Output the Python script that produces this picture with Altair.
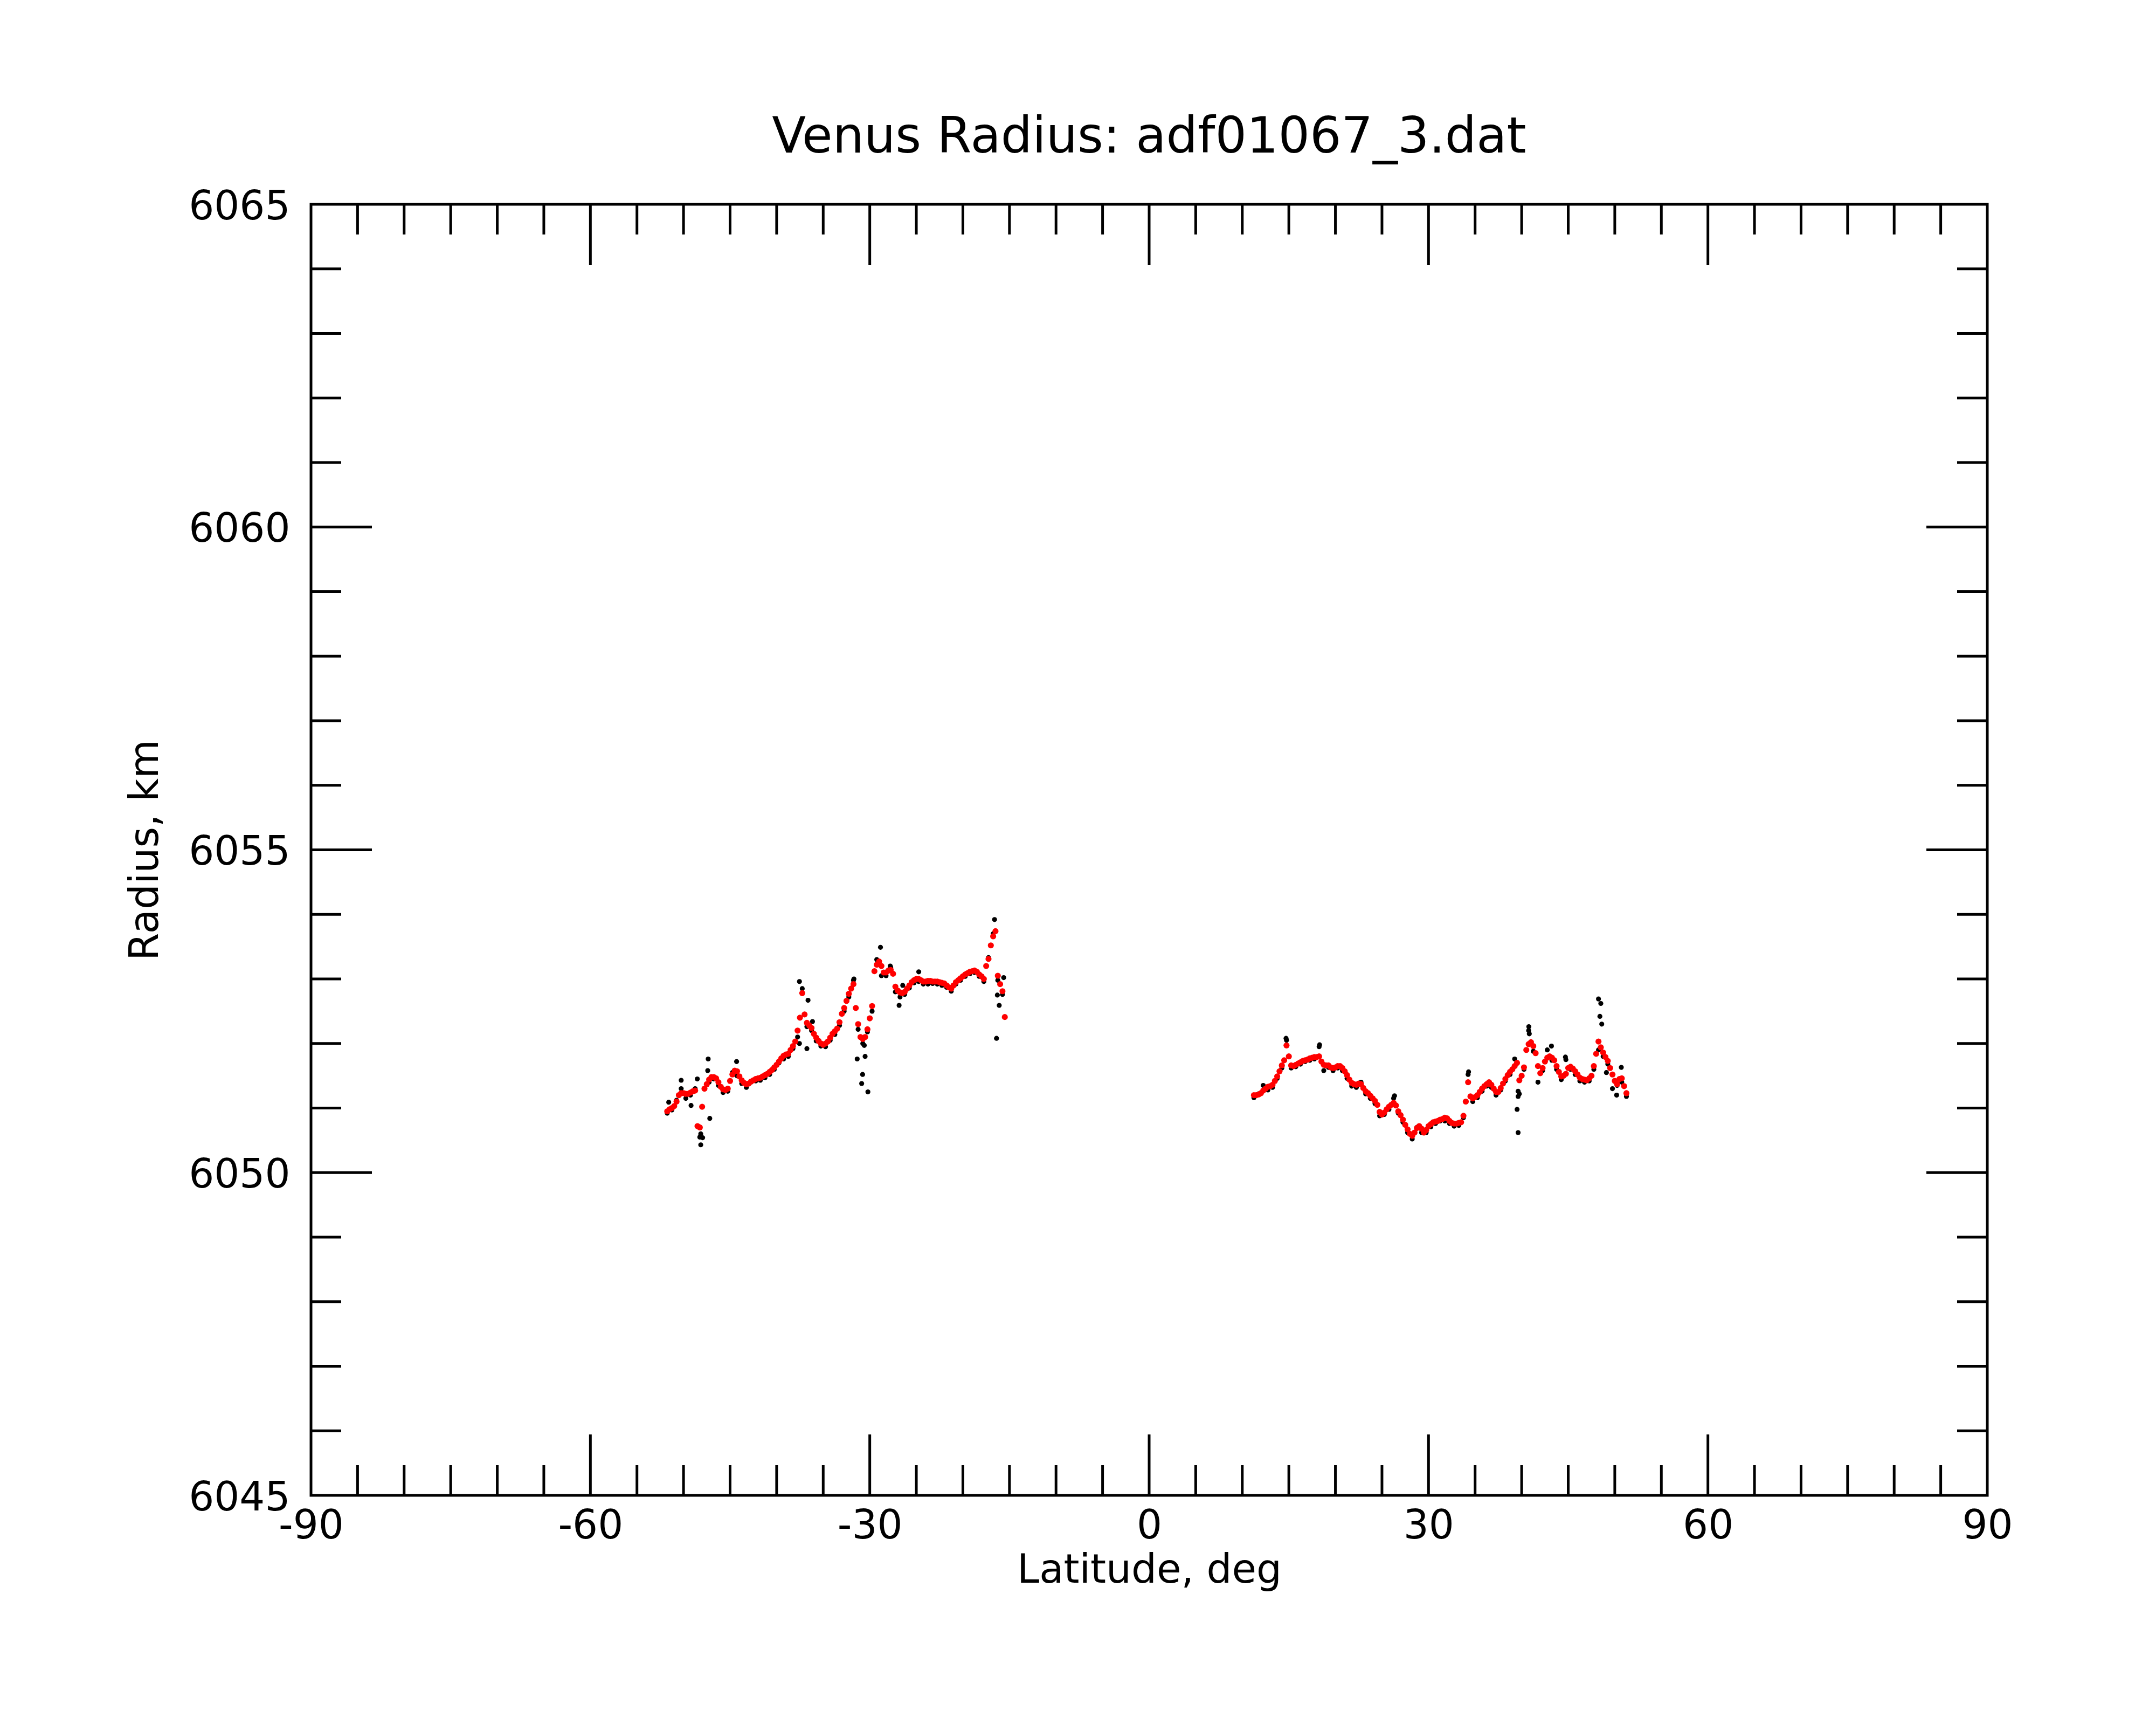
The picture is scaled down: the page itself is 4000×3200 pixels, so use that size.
import altair as alt
import pandas as pd

FONT = "DejaVu Sans"
W, H = 3110, 2395

TITLE = "Venus Radius: adf01067_3.dat"
X_TITLE = "Latitude, deg"
Y_TITLE = "Radius, km"

x_labels = [-90, -60, -30, 0, 30, 60, 90]
y_labels = [6045, 6050, 6055, 6060, 6065]
x_major = [-60, -30, 0, 30, 60]
x_minor = [v for v in range(-85, 90, 5) if v % 30 != 0]
y_major = [6050, 6055, 6060]
y_minor = [v for v in range(6046, 6065) if v % 5 != 0]

# smoothed radius (red), sampled every 0.25 deg
red1_start, red2_start, red_step = -51.75, 11.25, 0.25
red1_r = [
    6050.95, 6050.98, 6051.00, 6051.03, 6051.10, 6051.20, 6051.23, 6051.23, 6051.22, 6051.22,
    6051.24, 6051.26, 6051.27, 6050.72, 6050.70, 6051.02, 6051.30, 6051.37, 6051.44, 6051.48,
    6051.48, 6051.46, 6051.40, 6051.33, 6051.29, 6051.28, 6051.30, 6051.42, 6051.52, 6051.58,
    6051.57, 6051.49, 6051.43, 6051.39, 6051.37, 6051.38, 6051.41, 6051.43, 6051.45, 6051.46,
    6051.47, 6051.49, 6051.51, 6051.53, 6051.56, 6051.59, 6051.63, 6051.67, 6051.72, 6051.77,
    6051.81, 6051.83, 6051.84, 6051.90, 6051.96, 6052.03, 6052.20, 6052.40, 6052.78, 6052.45,
    6052.32, 6052.28, 6052.24, 6052.15, 6052.09, 6052.04, 6052.00, 6051.98, 6052.00, 6052.03,
    6052.09, 6052.15, 6052.19, 6052.23, 6052.33, 6052.46, 6052.55, 6052.66, 6052.77, 6052.85,
    6052.92, 6052.55, 6052.30, 6052.10, 6052.07, 6052.10, 6052.22, 6052.39, 6052.58, 6053.12,
    6053.22, 6053.27, 6053.20, 6053.10, 6053.10, 6053.13, 6053.14, 6053.08, 6052.88, 6052.82,
    6052.79, 6052.78, 6052.80, 6052.85, 6052.90, 6052.95, 6052.98, 6053.00, 6053.00, 6052.98,
    6052.96, 6052.96, 6052.97, 6052.97, 6052.96, 6052.96, 6052.96, 6052.95, 6052.94, 6052.93,
    6052.90, 6052.87, 6052.85, 6052.90, 6052.95, 6052.98, 6053.01, 6053.04, 6053.07, 6053.09,
    6053.11, 6053.12, 6053.13, 6053.11, 6053.07, 6053.04, 6053.00, 6053.20, 6053.31, 6053.52,
    6053.66, 6053.74, 6053.05, 6052.92, 6052.81, 6052.41,
]
red2_r = [
    6051.20, 6051.20, 6051.21, 6051.23, 6051.27, 6051.30, 6051.33, 6051.34, 6051.36, 6051.42,
    6051.49, 6051.57, 6051.66, 6051.74, 6051.97, 6051.80, 6051.66, 6051.65, 6051.67, 6051.69,
    6051.71, 6051.73, 6051.74, 6051.75, 6051.77, 6051.78, 6051.79, 6051.79, 6051.80, 6051.72,
    6051.67, 6051.66, 6051.66, 6051.63, 6051.62, 6051.63, 6051.65, 6051.65, 6051.62, 6051.57,
    6051.51, 6051.44, 6051.39, 6051.37, 6051.36, 6051.38, 6051.37, 6051.31, 6051.26, 6051.23,
    6051.19, 6051.15, 6051.11, 6051.05, 6050.94, 6050.90, 6050.93, 6050.98, 6051.02, 6051.05,
    6051.08, 6051.04, 6050.95, 6050.89, 6050.82, 6050.74, 6050.67, 6050.60, 6050.57, 6050.62,
    6050.69, 6050.72, 6050.68, 6050.62, 6050.66, 6050.72, 6050.75, 6050.78, 6050.79, 6050.80,
    6050.82, 6050.83, 6050.85, 6050.84, 6050.80, 6050.77, 6050.76, 6050.76, 6050.77, 6050.78,
    6050.88, 6051.10, 6051.40, 6051.18, 6051.15, 6051.17, 6051.20, 6051.25, 6051.30, 6051.34,
    6051.37, 6051.40, 6051.36, 6051.30, 6051.25, 6051.25, 6051.31, 6051.38, 6051.45, 6051.51,
    6051.56, 6051.60, 6051.65, 6051.70, 6051.43, 6051.50, 6051.63, 6051.90, 6051.99, 6052.02,
    6051.96, 6051.85, 6051.65, 6051.54, 6051.62, 6051.72, 6051.78, 6051.80, 6051.78, 6051.74,
    6051.65, 6051.56, 6051.49, 6051.50, 6051.53, 6051.62, 6051.64, 6051.61, 6051.57, 6051.52,
    6051.47, 6051.45, 6051.44, 6051.43, 6051.46, 6051.50, 6051.65, 6051.84, 6052.03, 6051.94,
    6051.86, 6051.79, 6051.73, 6051.62, 6051.52, 6051.42, 6051.37, 6051.45, 6051.46, 6051.34,
    6051.23,
]

# raw radius (black), sampled every 0.5 deg
blk1_start, blk2_start, blk_step = -51.75, 11.25, 0.5
blk1_r = [
    6050.92, 6050.97, 6051.12, 6051.30, 6051.15, 6051.20, 6051.30, 6050.55, 6051.30, 6051.40,
    6051.45, 6051.35, 6051.24, 6051.26, 6051.55, 6051.50, 6051.38, 6051.32, 6051.40, 6051.42,
    6051.43, 6051.47, 6051.52, 6051.60, 6051.70, 6051.76, 6051.80, 6051.92, 6052.10, 6052.85,
    6052.26, 6052.20, 6052.04, 6051.96, 6051.95, 6052.05, 6052.14, 6052.28, 6052.50, 6052.72,
    6052.98, 6052.22, 6052.00, 6052.18, 6052.50, 6053.30, 6053.05, 6053.05, 6053.18, 6052.80,
    6052.72, 6052.76, 6052.86, 6052.94, 6052.96, 6052.92, 6052.92, 6052.93, 6052.92, 6052.90,
    6052.87, 6052.81, 6052.92, 6052.98, 6053.04, 6053.08, 6053.10, 6053.04, 6052.96, 6053.33,
    6053.70, 6052.98, 6052.76,
]
blk2_r = [
    6051.16, 6051.22, 6051.35, 6051.28, 6051.32, 6051.46, 6051.62, 6052.05, 6051.62, 6051.64,
    6051.68, 6051.72, 6051.74, 6051.76, 6051.95, 6051.58, 6051.63, 6051.58, 6051.62, 6051.58,
    6051.46, 6051.34, 6051.32, 6051.40, 6051.22, 6051.15, 6051.07, 6050.88, 6050.90, 6050.98,
    6051.15, 6050.92, 6050.78, 6050.62, 6050.52, 6050.70, 6050.62, 6050.62, 6050.71, 6050.76,
    6050.80, 6050.80, 6050.76, 6050.72, 6050.73, 6050.85, 6051.52, 6051.10, 6051.16, 6051.26,
    6051.34, 6051.32, 6051.20, 6051.28, 6051.42, 6051.52, 6051.76, 6051.22, 6051.60, 6052.20,
    6051.88, 6051.40, 6051.58, 6051.90, 6051.74, 6051.60, 6051.44, 6051.75, 6051.60, 6051.52,
    6051.42, 6051.40, 6051.42, 6051.60, 6051.90, 6051.80, 6051.68, 6051.30, 6051.35, 6051.40,
    6051.18,
]

# isolated raw points away from the smoothed curve
out_lat = [
    -51.59, -50.25, -49.19, -48.52, -48.15, -47.95, -48.15, -47.18, -47.35, -47.40,
    -44.30, -37.55, -36.63, -36.15, -37.55, -36.75, -30.59, -31.35, -30.50, -30.77,
    -30.87, -30.20, -26.85, -26.46, -24.74, -27.80, -28.85, -16.30, -16.10, -16.39,
    -15.62, -31.70, -16.60,
    39.62, 39.62, 39.51, 39.62, 40.77, 40.82, 43.20, 44.70, 48.25, 48.50,
    48.40, 48.60, 50.20, 50.70, 34.30, 18.30, 14.70, 26.35, 49.10,
]
out_r = [
    6051.09, 6051.43, 6051.04, 6051.45, 6050.60, 6050.54, 6050.43, 6050.84, 6051.76, 6051.58,
    6051.72, 6052.96, 6052.67, 6052.34, 6052.00, 6051.92, 6051.97, 6051.76, 6051.80, 6051.52,
    6051.38, 6051.25, 6052.59, 6052.90, 6053.11, 6053.20, 6053.49, 6052.75, 6052.59, 6052.08,
    6053.02, 6053.00, 6053.92,
    6051.26, 6051.18, 6050.98, 6050.62, 6052.26, 6052.15, 6051.96, 6051.79, 6052.69, 6052.62,
    6052.42, 6052.30, 6051.20, 6051.63, 6051.56, 6051.98, 6052.08, 6051.19, 6051.55,
]


def seg(start, step, vals):
    return pd.DataFrame({"lat": [round(start + step * i, 3) for i in range(len(vals))], "r": vals})


red_df = pd.concat([seg(red1_start, red_step, red1_r), seg(red2_start, red_step, red2_r)])
blk_df = pd.concat([
    seg(blk1_start, blk_step, blk1_r),
    seg(blk2_start, blk_step, blk2_r),
    pd.DataFrame({"lat": out_lat, "r": out_r}),
])

xs = alt.Scale(domain=[-90, 90], nice=False, zero=False)
ys = alt.Scale(domain=[6045, 6065], nice=False, zero=False)

x_axis = alt.Axis(
    values=x_labels, labelExpr="'' + datum.value", ticks=False, domain=False, grid=False,
    labelFont=FONT, labelFontSize=74, labelColor="black", labelPadding=79,
    labelBaseline="alphabetic", labelFlush=False, labelOverlap=False, labelLimit=600,
    title=X_TITLE, titleFont=FONT, titleFontSize=74, titleFontWeight="normal",
    titleColor="black", titleY=161, titleBaseline="alphabetic",
)
y_axis = alt.Axis(
    values=y_labels, labelExpr="'' + datum.value", ticks=False, domain=False, grid=False,
    labelFont=FONT, labelFontSize=74, labelColor="black", labelPadding=39,
    labelBaseline="alphabetic", labelOffset=27, labelFlush=False, labelOverlap=False,
    labelLimit=600,
    title=Y_TITLE, titleFont=FONT, titleFontSize=74, titleFontWeight="normal",
    titleColor="black", titleX=-285, titleY=H / 2, titleBaseline="alphabetic",
    titleAngle=270, titleAlign="center",
)

X = alt.X("lat:Q", scale=xs, axis=x_axis)
Y = alt.Y("r:Q", scale=ys, axis=y_axis)

MAJ, MIN, TW = 113, 56, 5


def xticks(vals, length, top):
    df = pd.DataFrame({"lat": vals})
    y0, y1 = (0, length) if top else (H, H - length)
    return alt.Chart(df).mark_rule(color="black", strokeWidth=TW).encode(
        x=X, y=alt.value(y0), y2=alt.value(y1))


def yticks(vals, length, right):
    df = pd.DataFrame({"r": vals})
    x0, x1 = (W, W - length) if right else (0, length)
    return alt.Chart(df).mark_rule(color="black", strokeWidth=TW).encode(
        y=Y, x=alt.value(x0), x2=alt.value(x1))


layers = [
    xticks(x_major, MAJ, False), xticks(x_major, MAJ, True),
    xticks(x_minor, MIN, False), xticks(x_minor, MIN, True),
    yticks(y_major, MAJ, False), yticks(y_major, MAJ, True),
    yticks(y_minor, MIN, False), yticks(y_minor, MIN, True),
    alt.Chart(blk_df).mark_circle(size=85, color="black", opacity=1).encode(x=X, y=Y),
    alt.Chart(red_df).mark_circle(size=125, color="#ff0000", opacity=1).encode(x=X, y=Y),
]

chart = alt.layer(*layers).properties(
    width=W, height=H,
    title=alt.TitleParams(
        TITLE, font=FONT, fontSize=92, fontWeight="normal", color="black",
        anchor="middle", frame="group", baseline="alphabetic", offset=-28,
    ),
    autosize=alt.AutoSizeParams(type="none"),
    padding={"left": 569, "top": 371, "right": 305, "bottom": 418},
    background="white",
).configure_view(stroke="black", strokeWidth=5)

chart.save("out.html", embed_options={"renderer": "svg", "actions": False})
